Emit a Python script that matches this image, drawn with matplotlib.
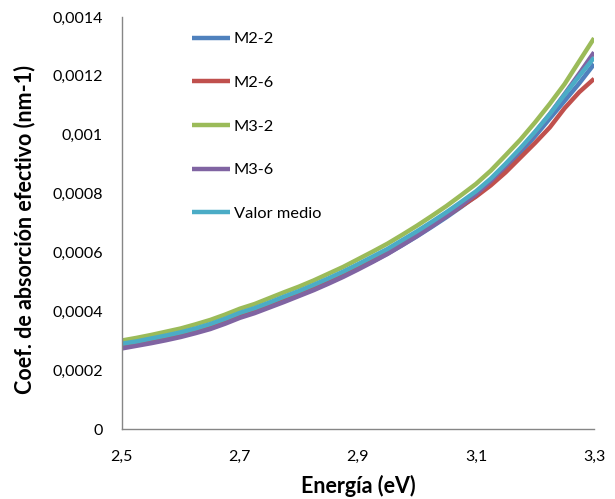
import numpy as np
import matplotlib
matplotlib.use("Agg")
from matplotlib import pyplot as plt
from matplotlib.ticker import FuncFormatter

# energia (eV), paso 0.025
energia = [2.500, 2.525, 2.550, 2.575, 2.600, 2.625, 2.650, 2.675, 2.700, 2.725, 2.750,
           2.775, 2.800, 2.825, 2.850, 2.875, 2.900, 2.925, 2.950, 2.975, 3.000, 3.025,
           3.050, 3.075, 3.100, 3.125, 3.150, 3.175, 3.200, 3.225, 3.250, 3.275, 3.300]

# coeficientes en unidades de 1e-4 nm-1
m2_2 = [2.77, 2.86, 2.96, 3.06, 3.17, 3.30, 3.44, 3.62, 3.82, 3.98, 4.17,
        4.36, 4.55, 4.75, 4.97, 5.20, 5.45, 5.70, 5.96, 6.25, 6.55, 6.87,
        7.20, 7.55, 7.92, 8.35, 8.85, 9.38, 9.95, 10.55, 11.15, 11.75, 12.40]
m2_6 = [2.84, 2.93, 3.03, 3.13, 3.25, 3.38, 3.53, 3.71, 3.91, 4.07, 4.27,
        4.47, 4.66, 4.87, 5.09, 5.32, 5.57, 5.82, 6.07, 6.36, 6.64, 6.94,
        7.24, 7.57, 7.90, 8.28, 8.72, 9.22, 9.72, 10.25, 10.90, 11.45, 11.90]
m3_2 = [3.01, 3.10, 3.20, 3.31, 3.42, 3.56, 3.71, 3.89, 4.09, 4.25, 4.45,
        4.65, 4.84, 5.05, 5.28, 5.51, 5.77, 6.03, 6.30, 6.60, 6.91, 7.24,
        7.58, 7.95, 8.33, 8.78, 9.30, 9.83, 10.42, 11.05, 11.72, 12.50, 13.28]
m3_6 = [2.74, 2.83, 2.92, 3.02, 3.13, 3.26, 3.40, 3.58, 3.78, 3.94, 4.13,
        4.32, 4.52, 4.72, 4.94, 5.17, 5.42, 5.68, 5.95, 6.25, 6.56, 6.89,
        7.23, 7.60, 7.98, 8.43, 8.95, 9.50, 10.08, 10.70, 11.38, 12.08, 12.80]
medio = [2.90, 2.98, 3.08, 3.18, 3.29, 3.42, 3.57, 3.75, 3.95, 4.11, 4.30,
         4.50, 4.69, 4.90, 5.12, 5.35, 5.60, 5.86, 6.12, 6.42, 6.72, 7.04,
         7.37, 7.72, 8.08, 8.51, 9.01, 9.54, 10.10, 10.70, 11.36, 12.00, 12.62]

series = [("M2-2", m2_2, "#4F81BD"),
          ("M2-6", m2_6, "#C0504D"),
          ("M3-2", m3_2, "#9BBB59"),
          ("M3-6", m3_6, "#8064A2"),
          ("Valor medio", medio, "#4BACC6")]

x_ticks = [2.5, 2.7, 2.9, 3.1, 3.3]
y_ticks = [0, 0.0002, 0.0004, 0.0006, 0.0008, 0.001, 0.0012, 0.0014]

plt.rcParams['font.family'] = ['Lato', 'DejaVu Sans']

fig = plt.figure(figsize=(6.15, 4.99), dpi=100)
ax = fig.add_axes([0.198, 0.140, 0.768, 0.826])

x = np.array(energia)
for name, vals, col in series:
    ax.plot(x, np.array(vals) * 1e-4, color=col, lw=3.2, label=name,
            solid_capstyle='butt')

ax.set_xlim(2.5, 3.3)
ax.set_ylim(0, 0.0014)
ax.set_xticks(x_ticks)
ax.set_yticks(y_ticks)


def coma(v, pos):
    s = ('%.4f' % v).rstrip('0').rstrip('.')
    if s == '':
        s = '0'
    return s.replace('.', ',')


ax.xaxis.set_major_formatter(FuncFormatter(coma))
ax.yaxis.set_major_formatter(FuncFormatter(coma))
ax.tick_params(length=0, labelsize=11.5, colors='#000000')
ax.tick_params(axis='y', pad=13.5)
ax.tick_params(axis='x', pad=15)

for s in ['top', 'right']:
    ax.spines[s].set_visible(False)
for s in ['left', 'bottom']:
    ax.spines[s].set_color('#868686')
    ax.spines[s].set_linewidth(1.0)

ax.set_xlabel('Energía (eV)', fontsize=15.5, fontweight='bold', labelpad=8)
ax.set_ylabel('Coef. de absorción efectivo (nm-1)', fontsize=15.5,
              fontweight='bold')
ax.yaxis.set_label_coords(-0.182, 0.485)

leg = fig.legend(loc='upper left', bbox_to_anchor=(192 / 615, 1 - 32 / 499),
                 frameon=False, fontsize=11.8, handlelength=2.3,
                 handletextpad=0.25, labelspacing=1.78, borderpad=0,
                 borderaxespad=0)

fig.savefig('out.png', dpi=100)
